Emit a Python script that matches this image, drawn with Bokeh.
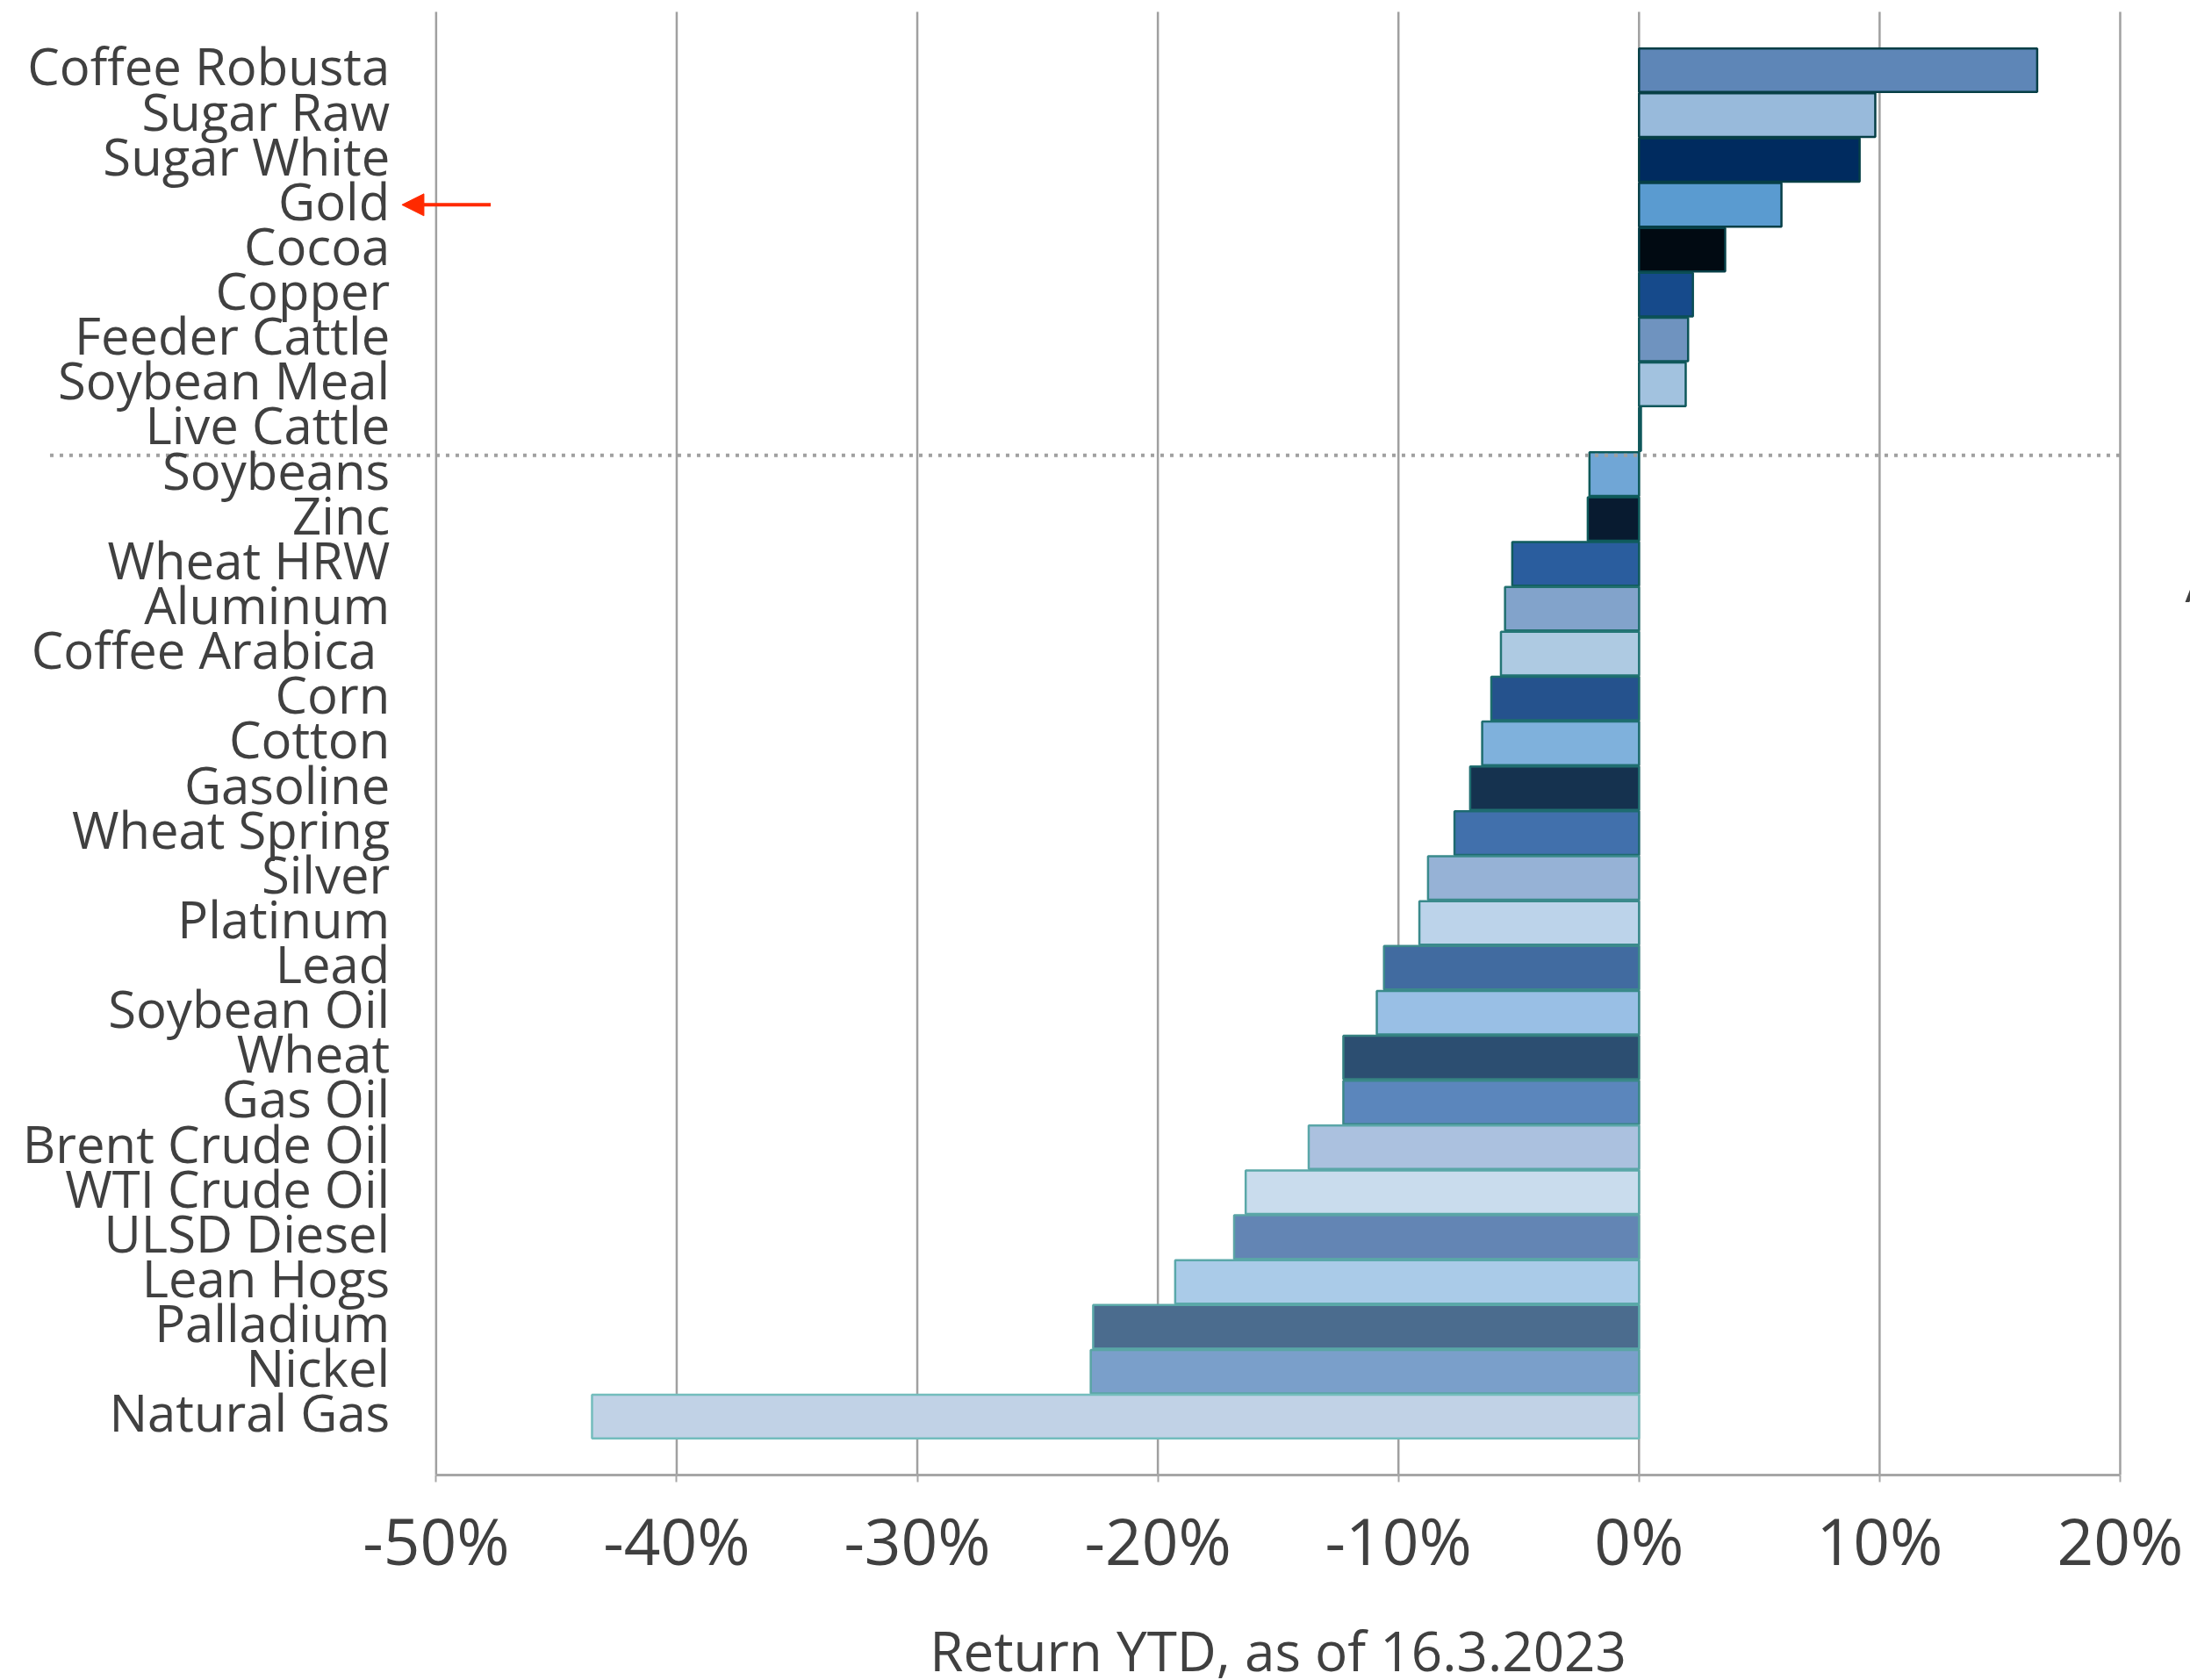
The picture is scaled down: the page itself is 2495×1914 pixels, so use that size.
from bokeh.plotting import figure
from bokeh.models import Range1d, FixedTicker, Arrow, NormalHead, ColumnDataSource
from bokeh.core.properties import value
from bokeh.embed import file_html
from bokeh.resources import INLINE

# Year-to-date commodity returns (%), sorted from best to worst
commodities = [
    "Coffee Robusta", "Sugar Raw", "Sugar White", "Gold", "Cocoa", "Copper",
    "Feeder Cattle", "Soybean Meal", "Live Cattle", "Soybeans", "Zinc", "Wheat HRW",
    "Aluminum", "Coffee Arabica ", "Corn", "Cotton", "Gasoline", "Wheat Spring",
    "Silver", "Platinum", "Lead", "Soybean Oil", "Wheat", "Gas Oil",
    "Brent Crude Oil", "WTI Crude Oil", "ULSD Diesel", "Lean Hogs", "Palladium",
    "Nickel", "Natural Gas",
]
returns_ytd = [
    16.55, 9.82, 9.17, 5.92, 3.58, 2.24, 2.04, 1.94, 0.08, -2.06, -2.13, -5.27,
    -5.57, -5.74, -6.14, -6.52, -7.02, -7.67, -8.77, -9.13, -10.6, -10.9, -12.29,
    -12.29, -13.73, -16.35, -16.83, -19.28, -22.69, -22.79, -43.52,
]
tick_values = [-50, -40, -30, -20, -10, 0, 10, 20]
tick_labels = ["-50%", "-40%", "-30%", "-20%", "-10%", "0%", "10%", "20%"]
x_title = "Return YTD, as of 16.3.2023"

fill_colors = [
    "#5E86B7", "#98BADB", "#002B5F", "#5A9BD0", "#010A12", "#164A8B", "#6F93BF",
    "#A2C2DF", "#3C6E9C", "#70A6D6", "#081B30", "#2A5D9E", "#82A3CB", "#AECAE2",
    "#25528D", "#7FB1DC", "#15324F", "#4170AC", "#96B2D6", "#BCD3EA", "#416BA0",
    "#99BFE5", "#2C4E71", "#5B86BC", "#ABC1DF", "#C9DCED", "#6385B4", "#AACBE8",
    "#4B6C8E", "#7A9FCA", "#C1D2E6",
]
edge_colors = [
    "#063F46", "#063F46", "#063F46", "#073F47", "#073F47", "#0B4E55", "#0D5458",
    "#0F585B", "#0F585B", "#0E5A5A", "#0E5A5A", "#105C5E", "#217070", "#247676",
    "#1D6E6E", "#1F6E70", "#206E70", "#1E6A70", "#3A8A8C", "#3A8A8C", "#3C8A8C",
    "#3A8A8A", "#358080", "#3A8888", "#5AA6A8", "#5AA8A8", "#5BA4A6", "#5AA8AA",
    "#5AA8A8", "#5AA5A5", "#74BDBD",
]

TEXT = "#404040"
FONT = "Open Sans"
RED = "#FF2A00"
GRID = "#A0A0A0"

# vertical extent of the plotting area, in category units
Y_TOP, Y_AXIS = -1.3, 31.3

positions = list(range(len(commodities)))
src = ColumnDataSource(dict(
    y=positions, name=commodities, ret=returns_ytd,
    fill=fill_colors, edge=edge_colors,
))

# the drawing area covers the whole canvas; the axis sits at a fixed location
p = figure(
    width=2495, height=1914,
    x_range=Range1d(-68.11, 22.92), y_range=Range1d(35.88, -1.554),
    min_border=0, y_axis_location=None,
    output_backend="svg", toolbar_location=None,
)
p.outline_line_color = None
p.background_fill_color = "white"
p.border_fill_color = "white"
p.xgrid.visible = False
p.ygrid.visible = False

# vertical gridlines from the top of the plot down to the axis
p.segment(x0=tick_values, x1=tick_values, y0=Y_TOP, y1=Y_AXIS,
          line_color=GRID, line_width=2.5)

# bars
p.hbar(y="y", left=0, right="ret", height=0.97, source=src,
       fill_color="fill", line_color="edge", line_width=2.5)

# separator between gainers and losers
split = returns_ytd.index(min(r for r in returns_ytd if r > 0)) + 0.58
p.segment(x0=-66.05, x1=tick_values[-1], y0=split, y1=split, line_color=GRID,
          line_width=4, line_dash="4 7")

# category labels
p.text(x=-51.92, y="y", text="name", source=src, text_align="right",
       text_baseline="middle", y_offset=-5, text_font=value(FONT),
       text_font_size="58px", text_color=TEXT)

# marker pointing at gold
gold = commodities.index("Gold")
p.add_layout(Arrow(
    end=NormalHead(size=25, fill_color=RED, line_color=RED, line_width=1),
    x_start=-47.73, y_start=gold, x_end=-51.42, y_end=gold,
    line_color=RED, line_width=4,
))

# fragment of a caption running off the right edge
p.text(x=[22.7], y=[11.42], text=["A"], text_font=value(FONT), text_font_size="57px",
       text_color=TEXT, text_baseline="alphabetic", text_align="left")

# x axis
ax = p.xaxis[0]
ax.fixed_location = Y_AXIS
ax.ticker = FixedTicker(ticks=tick_values)
ax.major_label_overrides = {v: lab for v, lab in zip(tick_values, tick_labels)}
ax.bounds = (tick_values[0], tick_values[-1])
ax.axis_line_color = "#A6A6A6"
ax.axis_line_width = 3
ax.major_tick_line_color = "#A6A6A6"
ax.major_tick_line_width = 2
ax.major_tick_in = 0
ax.major_tick_out = 8
ax.minor_tick_line_color = None
ax.major_label_text_font = FONT
ax.major_label_text_font_size = "73px"
ax.major_label_text_color = TEXT
ax.major_label_standoff = 17

# axis title, centred under the -50%..20% span
p.text(x=[(tick_values[0] + tick_values[-1]) / 2], y=[35.2], text=[x_title],
       text_font=value(FONT), text_font_size="62px", text_color=TEXT,
       text_align="center", text_baseline="middle")

open("out.html", "w").write(file_html(p, INLINE))
